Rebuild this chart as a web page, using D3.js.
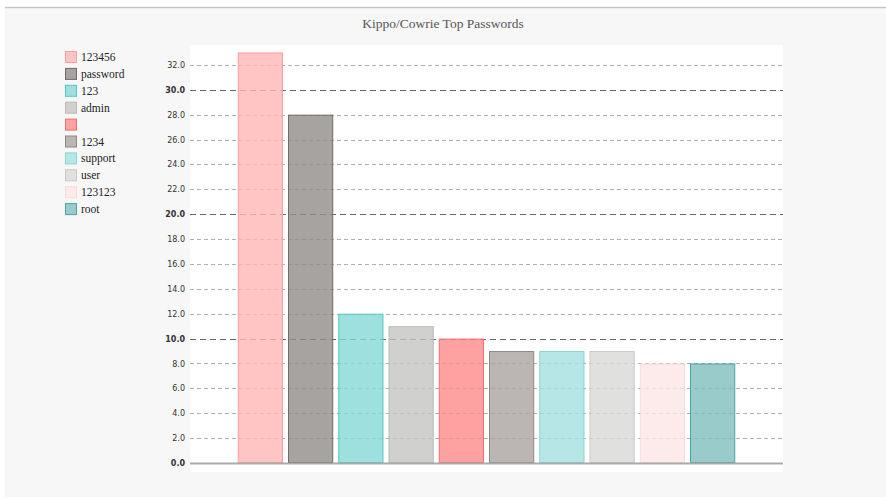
<!DOCTYPE html>
<html>
<head>
<meta charset="utf-8">
<script src="https://cdn.jsdelivr.net/npm/d3@7"></script>
<style>
  html, body { margin: 0; padding: 0; background: #ffffff; }
  svg { display: block; }
</style>
</head>
<body>
<svg id="chart" width="886" height="499"></svg>
<script>
// Top passwords seen by the Kippo/Cowrie honeypot
const passwords = ["123456", "password", "123", "admin", "", "1234", "support", "user", "123123", "root"];
const counts = [33, 28, 12, 11, 10, 9, 9, 9, 8, 8];
const fills = ["#ffc4c4", "#a6a3a1", "#9ee0de", "#d0d1ce", "#ffa1a1", "#bbb6b3", "#b6e7e6", "#e0e1df", "#fdeaea", "#98cbca"];
const strokes = ["#ff9c9c", "#6f6b69", "#55c8c4", "#b9bab7", "#f07070", "#8e8986", "#86d6d3", "#c9cac8", "#f9dada", "#4aa5a2"];
const yTicks = d3.range(0, 33, 2);
const majorTicks = [0, 10, 20, 30];

// bars are translucent so the grid shows through; derive the base colour
// that gives the intended shade over white at this opacity
const barAlpha = 0.8;
function baseColor(hex) {
  const c = d3.rgb(hex);
  const f = v => Math.max(0, Math.min(255, (v - (1 - barAlpha) * 255) / barAlpha));
  return d3.rgb(f(c.r), f(c.g), f(c.b)).formatHex();
}

const svg = d3.select("#chart");

// page panel and top rule
svg.append("rect").attr("x", 5).attr("y", 7).attr("width", 881).attr("height", 490).attr("fill", "#f7f7f7");
svg.append("line").attr("x1", 5).attr("x2", 886).attr("y1", 7.5).attr("y2", 7.5)
  .attr("stroke", "#c6c6c6").attr("stroke-width", 1.5);

svg.append("text").attr("x", 443).attr("y", 28).attr("text-anchor", "middle")
  .attr("font-family", "Liberation Serif, serif").attr("font-size", 13.5).attr("fill", "#555")
  .text("Kippo/Cowrie Top Passwords");

const plot = { left: 190, right: 783, top: 45, bottom: 463 };
svg.append("rect").attr("x", plot.left).attr("y", plot.top)
  .attr("width", plot.right - plot.left).attr("height", 472 - plot.top).attr("fill", "#ffffff");

const x = d3.scaleBand().domain(passwords.map((p, i) => i)).range([plot.left, plot.right])
  .paddingInner(0.1).paddingOuter(0.95);
const y = d3.scaleLinear().domain([0, 33.6]).range([plot.bottom, plot.top]);

// gridlines
const grid = svg.append("g");
grid.selectAll("line").data(yTicks.filter(t => t > 0)).join("line")
  .attr("x1", plot.left).attr("x2", plot.right)
  .attr("y1", d => Math.round(y(d)) + 0.5).attr("y2", d => Math.round(y(d)) + 0.5)
  .attr("stroke", d => majorTicks.includes(d) ? "#666" : "#b0b0b0")
  .attr("stroke-width", 1)
  .attr("stroke-dasharray", d => majorTicks.includes(d) ? "6,4" : "4,3");

// y axis labels
const yAxis = d3.axisLeft(y).tickValues(yTicks).tickFormat(d3.format(".1f")).tickSize(0).tickPadding(5);
const ag = svg.append("g").attr("transform", `translate(${plot.left},0)`).call(yAxis);
ag.select(".domain").remove();
ag.selectAll("text").attr("font-family", "DejaVu Sans, sans-serif").attr("font-size", 8)
  .attr("fill", "#333")
  .attr("font-weight", d => majorTicks.includes(d) ? "bold" : "normal");

// bars
svg.append("g").selectAll("rect").data(counts).join("rect")
  .attr("x", (d, i) => x(i) + 0.5)
  .attr("y", d => y(d) + 0.5)
  .attr("width", x.bandwidth() - 1)
  .attr("height", d => plot.bottom - y(d) - 1)
  .attr("fill", (d, i) => baseColor(fills[i]))
  .attr("fill-opacity", barAlpha)
  .attr("stroke", (d, i) => strokes[i])
  .attr("stroke-width", 1);

// baseline
svg.append("line").attr("x1", plot.left).attr("x2", plot.right)
  .attr("y1", plot.bottom + 0.5).attr("y2", plot.bottom + 0.5)
  .attr("stroke", "#aaa").attr("stroke-width", 2);

// legend
const legend = svg.append("g").attr("transform", "translate(65,51)");
const rows = legend.selectAll("g").data(passwords).join("g")
  .attr("transform", (d, i) => `translate(0,${i * 16.9})`);
rows.append("rect").attr("x", 0.5).attr("y", 0.5).attr("width", 11).attr("height", 11)
  .attr("fill", (d, i) => fills[i]).attr("stroke", (d, i) => strokes[i]);
rows.append("text").attr("x", 16).attr("y", 10)
  .attr("font-family", "Liberation Serif, serif").attr("font-size", 11.5).attr("fill", "#222")
  .text(d => d);
</script>
</body>
</html>
